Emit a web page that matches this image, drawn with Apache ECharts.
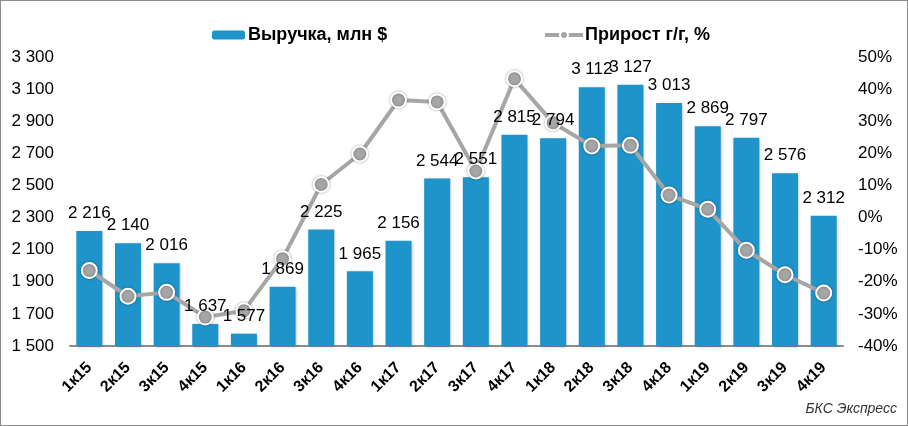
<!DOCTYPE html>
<html><head><meta charset="utf-8">
<script src="https://cdn.jsdelivr.net/npm/echarts@6/dist/echarts.min.js"></script>
<style>html,body{margin:0;padding:0;background:#fff}#c{width:906px;height:424px;border:1px solid #8c8c8c}</style>
</head><body><div id="c"></div>
<script>
const categories = ['1к15','2к15','3к15','4к15','1к16','2к16','3к16','4к16','1к17','2к17','3к17','4к17','1к18','2к18','3к18','4к18','1к19','2к19','3к19','4к19'];
const revenue = [2216,2140,2016,1637,1577,1869,2225,1965,2156,2544,2551,2815,2794,3112,3127,3013,2869,2797,2576,2312];
const growth = [-16.5,-24.5,-23.3,-31.0,-29.0,-12.8,10.3,19.8,36.6,36.0,14.5,43.2,29.5,22.3,22.5,7.0,2.6,-10.2,-17.8,-23.5];
const fmt = v => String(v).replace(/\B(?=(\d{3})+(?!\d))/g, ' ');
const font = 'Liberation Sans, Arial, sans-serif';
const chart = echarts.init(document.getElementById('c'));
chart.setOption({
  animation: false,
  textStyle: {fontFamily: font},
  legend: [
    {data: ['Выручка, млн $'], left: 206, top: 20, itemWidth: 33, itemHeight: 9, itemGap: 3,
     textStyle: {fontSize: 18, fontWeight: 'bold', color: '#000', fontFamily: font, padding: [0,0,0,-2]}},
    {data: ['Прирост г/г, %'], left: 537, top: 20, itemWidth: 38, itemHeight: 10,
     lineStyle: {width: 4}, 
     textStyle: {fontSize: 18, fontWeight: 'bold', color: '#000', fontFamily: font, padding: [0,0,0,-3]}}
  ],
  grid: {left: 69, right: 64, top: 56, bottom: 79},
  xAxis: {type: 'category', data: categories,
    axisLine: {onZero: false, lineStyle: {color: '#8c8c8c', width: 2}}, axisTick: {show: false},
    axisLabel: {rotate: 45, fontWeight: 'bold', fontSize: 16, color: '#000', margin: 19, interval: 0}},
  yAxis: [
    {type: 'value', min: 1500, max: 3300, interval: 200, splitLine: {show: false},
     axisLabel: {fontSize: 17, color: '#000', margin: 16, formatter: fmt}},
    {type: 'value', min: -40, max: 50, interval: 10, splitLine: {show: false},
     axisLabel: {fontSize: 17, color: '#000', margin: 15, formatter: '{value}%'}}
  ],
  series: [
    {name: 'Выручка, млн $', type: 'bar', data: revenue, barWidth: 26, z: 2,
     itemStyle: {color: '#1F94CA', shadowColor: 'rgba(0,0,0,0.25)', shadowBlur: 3, shadowOffsetX: 1, shadowOffsetY: 1}},
    {name: 'Прирост г/г, %', type: 'line', yAxisIndex: 1, data: growth,
     symbol: 'circle', symbolSize: 15, z: 3,
     lineStyle: {color: '#A6A6A6', width: 4},
     itemStyle: {color: '#A6A6A6', borderColor: '#fff', borderWidth: 2, shadowColor: 'rgba(0,0,0,0.3)', shadowBlur: 3}},
    {name: 'labels', type: 'bar', data: revenue, barWidth: 26, barGap: '-100%', z: 5, silent: true,
     itemStyle: {color: 'rgba(0,0,0,0)'},
     label: {show: true, position: 'top', distance: 9, fontSize: 17, color: '#000', formatter: p => fmt(p.value)}}
  ],
  graphic: [{type: 'text', right: 10, bottom: 9,
    style: {text: 'БКС Экспресс', font: 'italic 14px ' + font, fill: '#333'}}]
});
</script></body></html>
